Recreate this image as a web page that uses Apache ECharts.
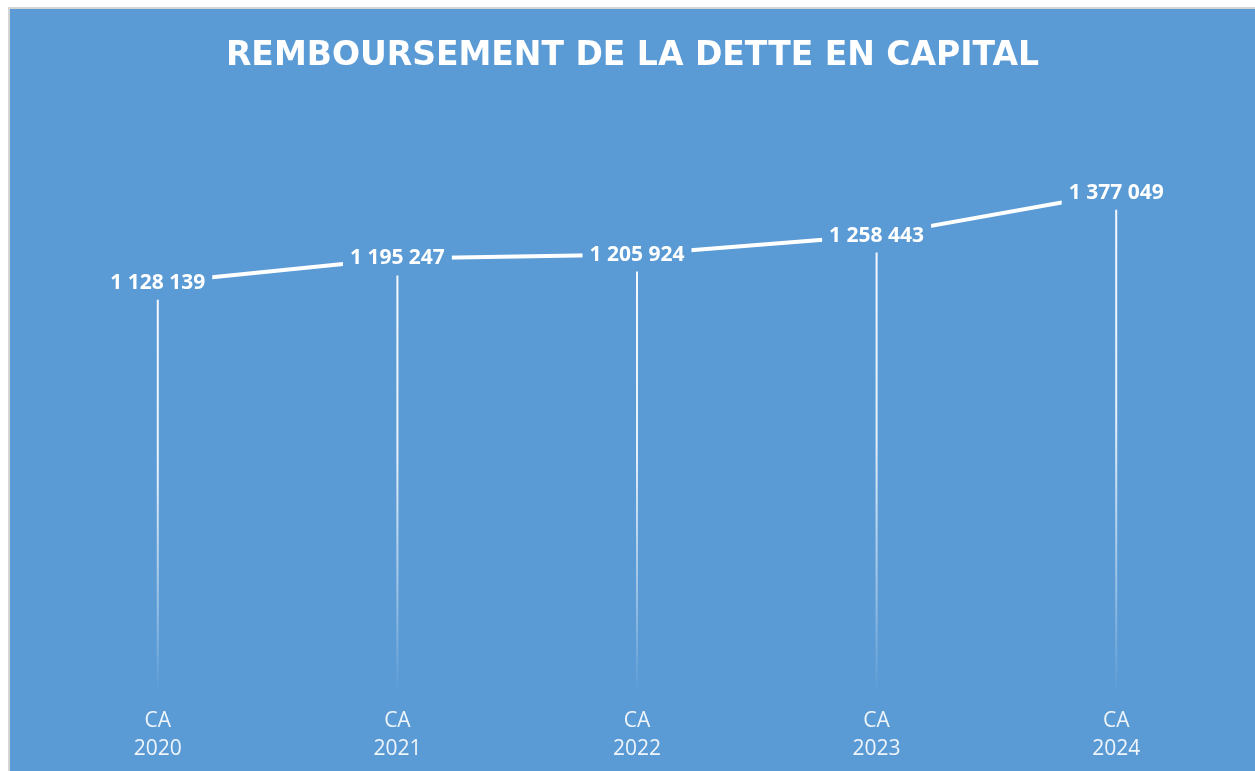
<!DOCTYPE html>
<html>
<head>
    <meta charset="utf-8">
    <title>Remboursement de la dette en capital</title>
    <style>
        html, body { margin: 0; padding: 0; background: #fff; }
        .frame {
            position: absolute;
            left: 8px;
            top: 7px;
            width: 1247px;
            height: 764px;
            border-left: 2px solid #d4d4d4;
            border-top: 2px solid #d4d4d4;
            background: #5b9bd5;
        }
        #main { width: 1245px; height: 762px; }
    </style>
</head>
<body>
<div class="frame"><div id="main"></div></div>

<script src="https://cdn.jsdelivr.net/npm/echarts@6/dist/echarts.min.js"></script>
<script>
    var categories = ['CA\n2020', 'CA\n2021', 'CA\n2022', 'CA\n2023', 'CA\n2024'];
    var values = [1128139, 1195247, 1205924, 1258443, 1377049];

    var bg = '#5b9bd5';

    function fmt(v) {
        return String(v).replace(/\B(?=(\d{3})+(?!\d))/g, ' ');
    }

    var myChart = echarts.init(document.getElementById('main'));
    myChart.setOption({
        backgroundColor: bg,
        animation: false,
        title: {
            text: 'REMBOURSEMENT DE LA DETTE EN CAPITAL',
            left: 'center',
            top: 26,
            textStyle: {
                color: '#ffffff',
                fontFamily: 'DejaVu Sans',
                fontWeight: 'bold',
                fontSize: 33
            }
        },
        grid: {
            left: 28,
            right: 19,
            top: 103,
            bottom: 80
        },
        xAxis: {
            type: 'category',
            data: categories,
            axisLine: { show: false },
            axisTick: { show: false },
            axisLabel: {
                color: 'rgba(255,255,255,0.9)',
                fontFamily: 'Open Sans',
                fontSize: 21,
                lineHeight: 28,
                margin: 16
            }
        },
        yAxis: {
            type: 'value',
            min: 0,
            max: 1600000,
            show: false,
            splitLine: { show: false }
        },
        series: [
            {
                // lignes de rappel
                type: 'bar',
                barWidth: 2,
                z: 1,
                data: values,
                itemStyle: {
                    color: {
                        type: 'linear',
                        x: 0, y: 0, x2: 0, y2: 1,
                        colorStops: [
                            { offset: 0, color: 'rgba(255,255,255,0.95)' },
                            { offset: 0.45, color: 'rgba(255,255,255,0.85)' },
                            { offset: 0.8, color: 'rgba(255,255,255,0.35)' },
                            { offset: 1, color: 'rgba(255,255,255,0)' }
                        ]
                    }
                },
                silent: true
            },
            {
                type: 'line',
                z: 3,
                data: values,
                symbol: 'circle',
                symbolSize: 2,
                itemStyle: { color: '#ffffff' },
                lineStyle: { color: '#ffffff', width: 4 },
                label: {
                    show: true,
                    position: 'inside',
                    formatter: function (p) { return fmt(p.value); },
                    color: '#ffffff',
                    fontFamily: 'Open Sans',
                    fontWeight: 'bold',
                    fontSize: 21,
                    backgroundColor: bg,
                    padding: [6, 7, 7, 7]
                }
            }
        ]
    });
</script>
</body>
</html>
